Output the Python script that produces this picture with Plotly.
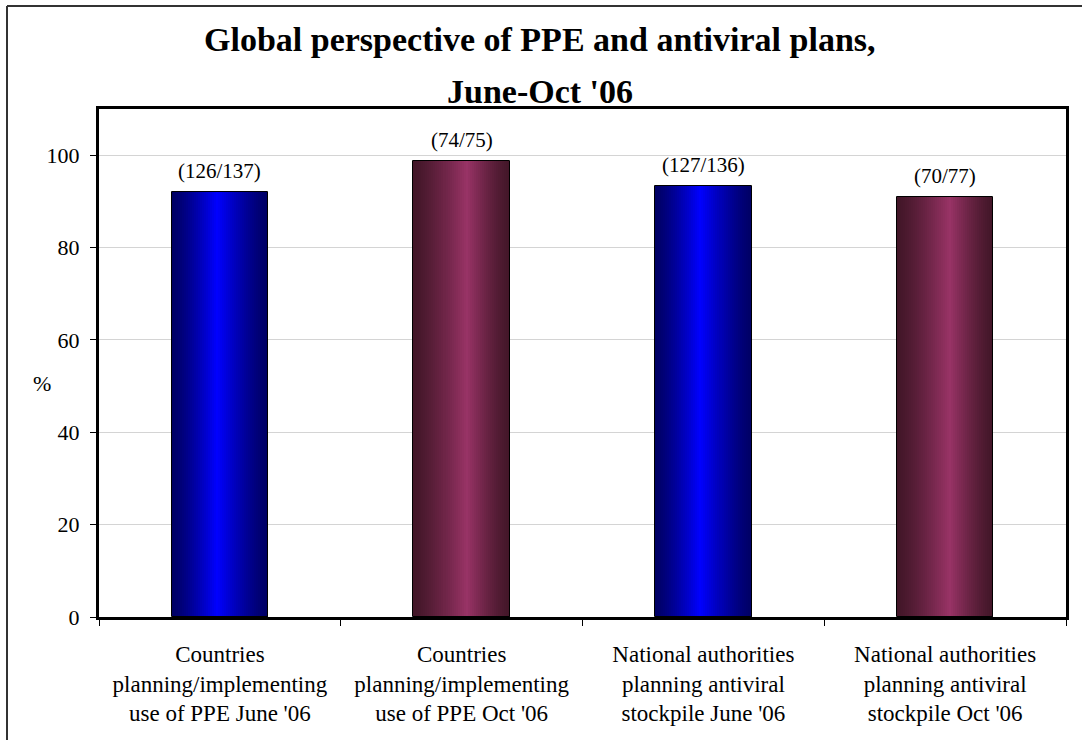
import plotly.graph_objects as go

# Survey results: countries / authorities answering "yes" out of those reporting
categories = [
    "Countries<br>planning/implementing<br>use of PPE June '06",
    "Countries<br>planning/implementing<br>use of PPE Oct '06",
    "National authorities<br>planning antiviral<br>stockpile June '06",
    "National authorities<br>planning antiviral<br>stockpile Oct '06",
]
yes_counts = [126, 74, 127, 70]
reporting = [137, 75, 136, 77]
percent = [100 * a / b for a, b in zip(yes_counts, reporting)]
count_labels = [f"({a}/{b})" for a, b in zip(yes_counts, reporting)]
y_ticks = [0, 20, 40, 60, 80, 100]

FONT = "Liberation Serif"
BAR_W = 0.4
N_SLICES = 48

# Edge / highlight colours of the cylinder-style shading for each period
shade = {
    "june": {"edge": (0, 0, 100), "peak": (0, 0, 255), "peak_at": 0.47},
    "oct": {"edge": (66, 22, 40), "peak": (153, 51, 102), "peak_at": 0.55},
}
bar_style = ["june", "oct", "june", "oct"]


def shade_color(style, t):
    s = shade[style]
    p = s["peak_at"]
    span = p if t < p else 1 - p
    w = max(0.0, 1 - abs(t - p) / span) ** 1.3
    rgb = [round(e + (q - e) * w) for e, q in zip(s["edge"], s["peak"])]
    return "rgb({},{},{})".format(*rgb)


fig = go.Figure()

# Each bar is built from overlapping vertical strips so it shows a horizontal gradient
for i in range(N_SLICES):
    start = -BAR_W / 2 + i * BAR_W / N_SLICES
    t = (i + 0.5) / N_SLICES
    fig.add_trace(go.Bar(
        x=categories, y=percent,
        width=BAR_W - i * BAR_W / N_SLICES,
        offset=start,
        marker=dict(color=[shade_color(s, t) for s in bar_style], line=dict(width=0)),
        showlegend=False, hoverinfo="skip",
    ))

# Outline of every bar
fig.add_trace(go.Bar(
    x=categories, y=percent, width=BAR_W,
    marker=dict(color="rgba(0,0,0,0)", line=dict(color="black", width=1)),
    showlegend=False,
    hovertemplate="%{y:.1f}%<extra></extra>",
))

# Count labels above the bars
for c, v, lab in zip(categories, percent, count_labels):
    fig.add_annotation(x=c, y=v, text=lab, showarrow=False, yanchor="bottom",
                       yshift=7, font=dict(family=FONT, size=21, color="black"))

# Title on two lines, centred on the outer frame
title_x = (540 - 99) / 967
fig.add_annotation(xref="paper", yref="paper", x=title_x, xanchor="center",
                   y=(617 - 39) / 508,
                   text="<b>Global perspective of PPE and antiviral plans,</b>",
                   showarrow=False, yanchor="middle",
                   font=dict(family=FONT, size=34, color="black"))
fig.add_annotation(xref="paper", yref="paper", x=title_x, xanchor="center",
                   y=(617 - 91) / 508,
                   text="<b>June-Oct '06</b>",
                   showarrow=False, yanchor="middle",
                   font=dict(family=FONT, size=34, color="black"))

# Unrotated y-axis label
fig.add_annotation(xref="paper", yref="paper", x=(42 - 99) / 967, xanchor="center",
                   y=(617 - 384) / 508, yanchor="middle",
                   text="%", showarrow=False,
                   font=dict(family=FONT, size=22, color="black"))

# Frame around the chart area
fl = (7 - 99) / 967
ft = (617 - 6) / 508
fig.add_shape(type="line", xref="paper", yref="paper", x0=fl, x1=fl, y0=-0.5, y1=ft,
              line=dict(color="#333333", width=2))
fig.add_shape(type="line", xref="paper", yref="paper", x0=fl, x1=1.2, y0=ft, y1=ft,
              line=dict(color="#333333", width=2))

fig.update_layout(
    width=1082, height=740,
    margin=dict(l=99, r=16, t=109, b=123),
    barmode="overlay",
    bargap=0,
    plot_bgcolor="white", paper_bgcolor="white",
    font=dict(family=FONT, color="black"),
)
fig.update_xaxes(
    type="category", range=[-0.5, 3.5], tickson="boundaries",
    ticks="outside", ticklen=6, tickwidth=1, tickcolor="black",
    showline=True, linewidth=3, linecolor="black", mirror=True,
    showgrid=False, ticklabelstandoff=14,
    tickfont=dict(family=FONT, size=23, color="black"),
)
fig.update_yaxes(
    range=[0, 110], tickvals=y_ticks,
    ticks="outside", ticklen=6, tickwidth=1, tickcolor="black",
    showline=True, linewidth=3, linecolor="black", mirror=True,
    showgrid=True, gridcolor="#d4d4d4", gridwidth=1, zeroline=False,
    ticklabelstandoff=6,
    tickfont=dict(family=FONT, size=22, color="black"),
)

fig.write_html("out.html")
